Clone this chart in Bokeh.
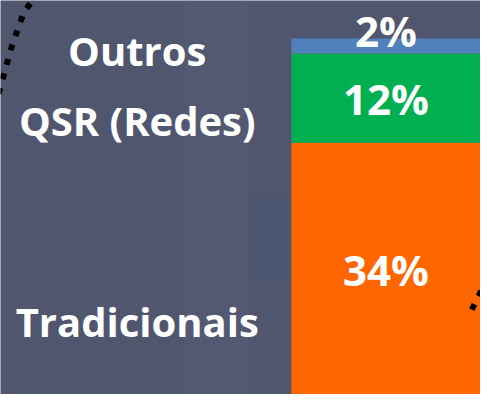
from bokeh.plotting import figure
from bokeh.models import Range1d, ColumnDataSource
from bokeh.embed import file_html
from bokeh.resources import INLINE
from bokeh.core.properties import value

# ---- data ----
segments = ["Tradicionais", "QSR (Redes)", "Outros"]
values = [34, 12, 2]
colors = ["#FF6600", "#00B050", "#4F81BD"]
pct_labels = ["34%", "12%", "2%"]
legend_y = [10.0, 37.0, 46.4]          # vertical position of category texts (in %)
pct_dy = [0, 0, -15]                    # extra screen offset for value labels

# ---- layout ----
W, H = 480, 394
p = figure(width=W, height=H, output_backend="svg", toolbar_location=None,
           x_range=Range1d(0, 495), y_range=Range1d(0.2, 53.1),
           min_border=0, background_fill_color="#4f566e",
           border_fill_color="#4f566e")
p.axis.visible = False
p.grid.visible = False
p.outline_line_color = None

# very soft background tint variations (blurred photo backdrop)
p.quad(left=[190], right=[255], bottom=[0.2], top=[53.1],
       fill_color="#8a8aa0", fill_alpha=0.07, line_color=None)
p.quad(left=[255], right=[300], bottom=[15.7], top=[26.6],
       fill_color="#3f5688", fill_alpha=0.15, line_color=None)

bottoms, tops = [], []
acc = 0
for v in values:
    bottoms.append(acc)
    acc += v
    tops.append(acc)

src = ColumnDataSource(dict(
    bottom=bottoms, top=tops, color=colors, label=pct_labels,
    mid=[(b + t) / 2 for b, t in zip(bottoms, tops)],
    dy=pct_dy, cat=segments, cy=legend_y,
))

p.vbar(x=397.5, width=195, bottom="bottom", top="top", fill_color="color",
       line_color=None, source=src)

p.text(x=397.5, y="mid", text="label", y_offset="dy", source=src,
       text_color="white", text_font=value("Open Sans"), text_font_style="bold",
       text_font_size="42px", text_align="center", text_baseline="middle")

p.text(x=141, y="cy", text="cat", source=src,
       text_color="white", text_font=value("Open Sans"), text_font_style="bold",
       text_font_size="40px", text_align="center", text_baseline="middle")

# decorative dotted lines (partially visible callout outlines)
dot_x1 = [-2, 12, 24, 36]
dot_y1 = [40.6, 47.1, 51.5, 53.6]
p.line(dot_x1, dot_y1, line_color="black", line_width=6, line_dash="6 9")
dot_x2 = [486, 493, 500]
dot_y2 = [11.6, 13.4, 15.2]
p.line(dot_x2, dot_y2, line_color="black", line_width=6, line_dash="6 9")

open("out.html", "w").write(file_html(p, INLINE))
